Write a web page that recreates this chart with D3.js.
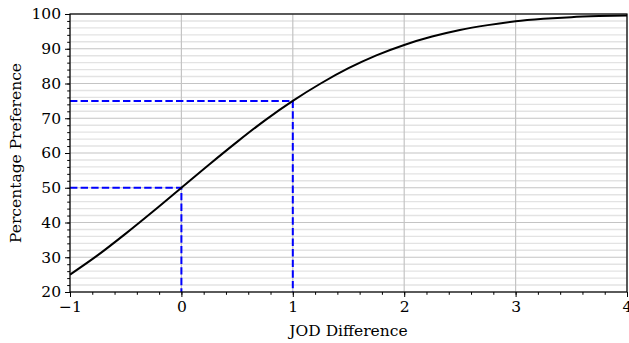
<!DOCTYPE html>
<html>
<head>
<meta charset="utf-8">
<script src="https://cdn.jsdelivr.net/npm/d3@7"></script>
<style>
body{margin:0;background:#fff;}
text{font-family:"DejaVu Serif",serif;}
</style>
</head>
<body>
<div id="chart"></div>
<script>
// curve
var jod = [-1,-0.75,-0.5,-0.25,0,0.25,0.5,0.75,1,1.25,1.5,1.75,2,2.25,2.5,2.75,3,3.25,3.5,3.75,4];
var pref = [25,30.6,36.8,43.3,50,56.7,63.2,69.4,75,80,84.4,88.1,91.1,93.5,95.4,96.8,97.9,98.6,99.1,99.4,99.6];
// dashed guide lines: [jod, preference]
var guides = [[0,50],[1,75]];
var xTicks = [-1,0,1,2,3,4];
var yTicks = [20,30,40,50,60,70,80,90,100];

var w = 629, h = 343;
var margin = {"top":14,"right":2,"bottom":51,"left":70};

var svg = d3.select("#chart").append("svg")
	.attr("width", w)
	.attr("height", h);

var x = d3.scaleLinear().domain([-1,4]).range([margin.left, w - margin.right]);
var y = d3.scaleLinear().domain([20,100]).range([h - margin.bottom, margin.top]);

var xMinor = d3.range(-1,4.001,0.2).map(function(d){return Math.round(d*10)/10;});
var yMinor = d3.range(20,100.001,2);

// minor grid
svg.append("g").selectAll("line")
	.data(yMinor.filter(function(d){return d%10!==0;}))
	.enter().append("line")
	.attr("x1", x(-1)).attr("x2", x(4))
	.attr("y1", function(d){return y(d);}).attr("y2", function(d){return y(d);})
	.attr("stroke", "#e3e3e3").attr("stroke-width", 1.4);

// major grid
svg.append("g").selectAll("line")
	.data(yTicks)
	.enter().append("line")
	.attr("x1", x(-1)).attr("x2", x(4))
	.attr("y1", function(d){return y(d);}).attr("y2", function(d){return y(d);})
	.attr("stroke", "#c4c4c4").attr("stroke-width", 1.2);
svg.append("g").selectAll("line")
	.data(xTicks)
	.enter().append("line")
	.attr("y1", y(20)).attr("y2", y(100))
	.attr("x1", function(d){return x(d);}).attr("x2", function(d){return x(d);})
	.attr("stroke", "#c4c4c4").attr("stroke-width", 1.2);

// guides
guides.forEach(function(g){
	svg.append("path")
	.attr("d", "M" + x(-1) + "," + y(g[1]) + "H" + x(g[0]) + "V" + y(20))
	.attr("fill", "none")
	.attr("stroke", "#0000ff")
	.attr("stroke-width", 2)
	.attr("stroke-dasharray", "7.4,3.2");
});

// curve
var line = d3.line()
	.x(function(d){return x(d[0]);})
	.y(function(d){return y(d[1]);})
	.curve(d3.curveMonotoneX);
svg.append("path")
	.datum(jod.map(function(d,i){return [d,pref[i]];}))
	.attr("d", line)
	.attr("fill", "none")
	.attr("stroke", "#000")
	.attr("stroke-width", 2);

// frame
svg.append("rect")
	.attr("x", x(-1)).attr("y", y(100))
	.attr("width", x(4)-x(-1)).attr("height", y(20)-y(100))
	.attr("fill", "none").attr("stroke", "#000").attr("stroke-width", 1.2);

// axes
var fmt = function(d){return d<0 ? "\u2212" + Math.abs(d) : d;};
svg.append("g")
	.attr("transform", "translate(0," + y(20) + ")")
	.call(d3.axisBottom(x).tickValues(xTicks).tickFormat(fmt).tickSize(5).tickPadding(4));
svg.append("g")
	.attr("transform", "translate(0," + y(20) + ")")
	.call(d3.axisBottom(x).tickValues(xMinor).tickFormat("").tickSize(2.8));
svg.append("g")
	.attr("transform", "translate(" + x(-1) + ",0)")
	.call(d3.axisLeft(y).tickValues(yTicks).tickSize(5).tickPadding(4));
svg.append("g")
	.attr("transform", "translate(" + x(-1) + ",0)")
	.call(d3.axisLeft(y).tickValues(yMinor).tickFormat("").tickSize(2.8));

svg.selectAll(".tick text")
	.style("font-family", "'DejaVu Serif',serif")
	.style("font-size", "15.5px")
	.attr("fill", "#000");
svg.selectAll(".domain").remove();
svg.selectAll(".tick line").attr("stroke", "#000").attr("stroke-width", 1);

// labels
svg.append("text")
	.attr("x", (x(-1)+x(4))/2)
	.attr("y", 336)
	.attr("text-anchor", "middle")
	.style("font-size", "15.5px")
	.text("JOD Difference");
svg.append("text")
	.attr("transform", "translate(21," + ((y(20)+y(100))/2) + ") rotate(-90)")
	.attr("text-anchor", "middle")
	.style("font-size", "15.5px")
	.text("Percentage Preference");
</script>
</body>
</html>
